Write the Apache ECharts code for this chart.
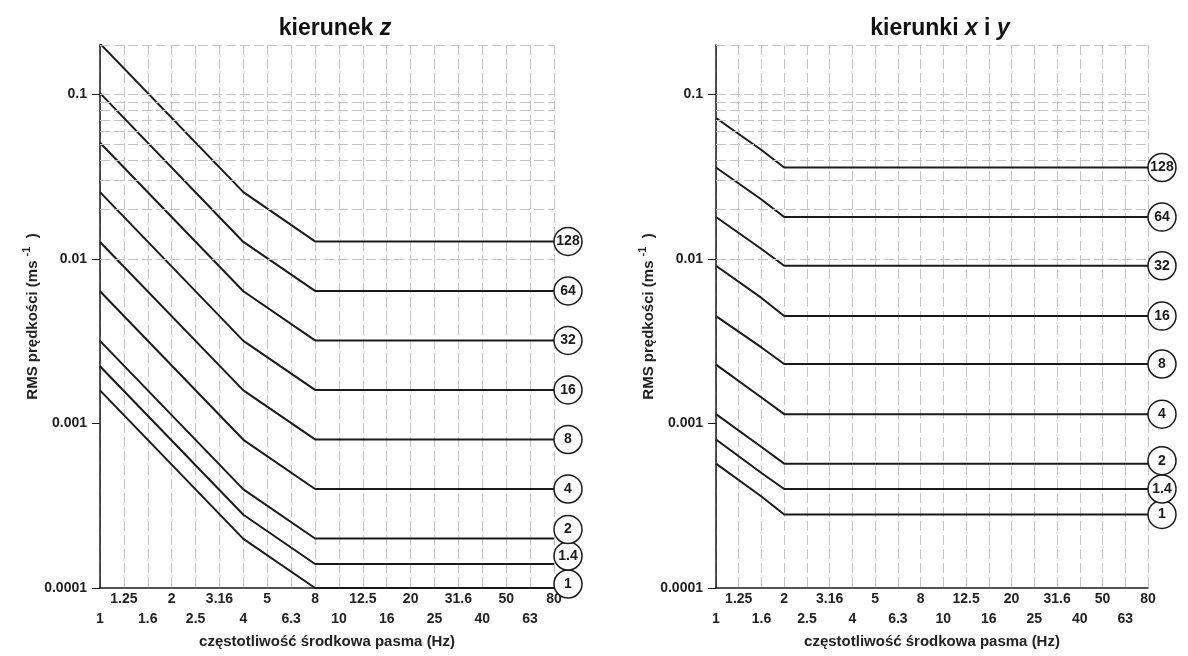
<!DOCTYPE html>
<html>
<head>
<meta charset="utf-8">
<script src="https://cdn.jsdelivr.net/npm/echarts@6/dist/echarts.min.js"></script>
<style>
  html, body { margin: 0; padding: 0; background: #fff; }
  #main { width: 1188px; height: 656px; }
</style>
</head>
<body>
<div id="main"></div>
<script>
// pasma tercjowe (Hz)
const freqs = ['1', '1.25', '1.6', '2', '2.5', '3.16', '4', '5', '6.3', '8',
  '10', '12.5', '16', '20', '25', '31.6', '40', '50', '63', '80'];
const curveNames = ['1', '1.4', '2', '4', '8', '16', '32', '64', '128'];

// kierunek z - odczyt w punktach załamania krzywych
const zBreaks = ['1', '4', '8', '80'];
const z_1 = [0.00159, 0.000199, 0.0001, 0.0001];
const z_1_4 = [0.00223, 0.000279, 0.00014, 0.00014];
const z_2 = [0.00318, 0.000398, 0.0002, 0.0002];
const z_4 = [0.00637, 0.000796, 0.0004, 0.0004];
const z_8 = [0.0127, 0.00159, 0.0008, 0.0008];
const z_16 = [0.0255, 0.00318, 0.0016, 0.0016];
const z_32 = [0.0509, 0.00637, 0.0032, 0.0032];
const z_64 = [0.102, 0.0127, 0.0064, 0.0064];
const z_128 = [0.204, 0.0255, 0.0128, 0.0128];

// kierunki x i y
const xyBreaks = ['1', '1.6', '2', '80'];
const xy_1 = [0.00057, 0.00036, 0.00028, 0.00028];
const xy_1_4 = [0.0008, 0.0005, 0.0004, 0.0004];
const xy_2 = [0.00114, 0.00072, 0.00057, 0.00057];
const xy_4 = [0.00228, 0.00144, 0.00114, 0.00114];
const xy_8 = [0.0045, 0.0029, 0.0023, 0.0023];
const xy_16 = [0.0091, 0.0058, 0.0045, 0.0045];
const xy_32 = [0.018, 0.0115, 0.0091, 0.0091];
const xy_64 = [0.036, 0.023, 0.018, 0.018];
const xy_128 = [0.072, 0.046, 0.036, 0.036];

// oś y
const yTicks = [0.0001, 0.001, 0.01, 0.1];
const yTickLabels = ['0.0001', '0.001', '0.01', '0.1'];
const hGrid = [0.2, 0.1, 0.09, 0.08, 0.07, 0.06, 0.05, 0.04, 0.03, 0.02,
  0.01, 0.009, 0.008, 0.007, 0.006, 0.005, 0.004, 0.003, 0.002,
  0.001, 0.0009, 0.0008, 0.0007, 0.0006, 0.0005, 0.0004, 0.0003, 0.0002];

const zCurves = [z_1, z_1_4, z_2, z_4, z_8, z_16, z_32, z_64, z_128];
const xyCurves = [xy_1, xy_1_4, xy_2, xy_4, xy_8, xy_16, xy_32, xy_64, xy_128];
// przesunięcie kółek z opisem (px), żeby się nie nakładały
const zShift = [-4, -8, -9, 0, 0, 0, 0, 0, 0];
const xyShift = [0, 0, -3, 0, 0, 0, 0, 0, 0];

const FONT = 'Liberation Sans, Arial, sans-serif';
const INK = '#1a1a1a';
const GRID_COLOR = '#c4c4c4';

function yLabel(v) {
  const i = yTicks.findIndex(t => Math.abs(Math.log10(v) - Math.log10(t)) < 1e-6);
  return i < 0 ? '' : yTickLabels[i];
}

function curveSeries(gi, breaks, values, name, shift) {
  return {
    type: 'line',
    xAxisIndex: gi,
    yAxisIndex: gi,
    name: name,
    data: breaks.map((f, k) => [f, values[k]]),
    symbol: 'none',
    silent: true,
    animation: false,
    z: 3,
    lineStyle: { color: INK, width: 2 },
    markPoint: {
      silent: true,
      animation: false,
      symbol: 'circle',
      symbolSize: 28,
      symbolOffset: [14, shift],
      itemStyle: { color: '#fff', borderColor: INK, borderWidth: 1.5 },
      label: { show: true, formatter: name, color: INK, fontSize: 14, fontWeight: 'bold', fontFamily: FONT },
      data: [{ coord: [breaks[breaks.length - 1], values[values.length - 1]] }]
    }
  };
}

function gridSeries(gi) {
  return {
    type: 'line',
    xAxisIndex: gi,
    yAxisIndex: gi,
    data: [],
    silent: true,
    z: 1,
    markLine: {
      silent: true,
      animation: false,
      symbol: 'none',
      label: { show: false },
      lineStyle: { color: GRID_COLOR, type: [10, 4], width: 1 },
      data: hGrid.map(v => ({ yAxis: v }))
    }
  };
}

function xAxis(gi) {
  return {
    type: 'category',
    gridIndex: gi,
    data: freqs,
    boundaryGap: false,
    axisLine: { lineStyle: { color: INK, width: 1.5 } },
    axisTick: { show: false },
    axisLabel: {
      interval: 0,
      margin: 1,
      lineHeight: 20,
      fontSize: 14,
      fontWeight: 'bold',
      fontFamily: FONT,
      color: '#222',
      formatter: (v, i) => (i % 2 ? v : '\n' + v)
    },
    splitLine: { show: true, interval: 0, lineStyle: { color: GRID_COLOR, type: [10, 4], width: 1 } },
    name: 'częstotliwość środkowa pasma (Hz)',
    nameLocation: 'middle',
    nameGap: 42,
    nameTextStyle: { fontSize: 15, fontWeight: 'bold', fontFamily: FONT, color: '#222' }
  };
}

function yAxis(gi) {
  return {
    type: 'log',
    gridIndex: gi,
    logBase: 10,
    min: 0.0001,
    max: 0.2,
    axisLine: { show: true, lineStyle: { color: INK, width: 1.5 } },
    axisTick: { show: true, customValues: yTicks, length: 8, lineStyle: { color: INK, width: 1 } },
    axisLabel: { formatter: yLabel, margin: 13, fontSize: 14, fontWeight: 'bold', fontFamily: FONT, color: '#222' },
    splitLine: { show: false },
    name: 'RMS prędkości (ms{sup|-1}{n|  )}',
    nameLocation: 'middle',
    nameGap: 55,
    nameTextStyle: {
      fontSize: 15,
      fontWeight: 'bold',
      fontFamily: FONT,
      color: '#222',
      rich: {
        sup: { fontSize: 11, fontWeight: 'bold', fontFamily: FONT, color: '#222', verticalAlign: 'bottom', padding: [0, 0, 12, 4] },
        n: { fontSize: 15, fontWeight: 'bold', fontFamily: FONT, color: '#222' }
      }
    }
  };
}

const titleRich = {
  b: { fontSize: 23, fontWeight: 'bold', fontFamily: FONT, color: '#111' },
  bi: { fontSize: 23, fontWeight: 'bold', fontStyle: 'italic', fontFamily: FONT, color: '#111' },
  i: { fontSize: 23, fontStyle: 'italic', fontFamily: FONT, color: '#111' }
};

const series = [gridSeries(0), gridSeries(1)];
zCurves.forEach((c, k) => series.push(curveSeries(0, zBreaks, c, curveNames[k], zShift[k])));
xyCurves.forEach((c, k) => series.push(curveSeries(1, xyBreaks, c, curveNames[k], xyShift[k])));

const myChart = echarts.init(document.getElementById('main'));
const option = {
  backgroundColor: '#fff',
  animation: false,
  title: [
    { text: '{b|kierunek }{bi|z}', left: 330, top: 12, textAlign: 'center', textStyle: { rich: titleRich } },
    { text: '{b|kierunki }{bi|x}{b| i }{i|y}', left: 935, top: 12, textAlign: 'center', textStyle: { rich: titleRich } }
  ],
  grid: [
    { left: 100, top: 45, width: 454, height: 543 },
    { left: 716, top: 45, width: 432, height: 543 }
  ],
  xAxis: [xAxis(0), xAxis(1)],
  yAxis: [yAxis(0), yAxis(1)],
  series: series
};
option && myChart.setOption(option);
</script>
</body>
</html>
